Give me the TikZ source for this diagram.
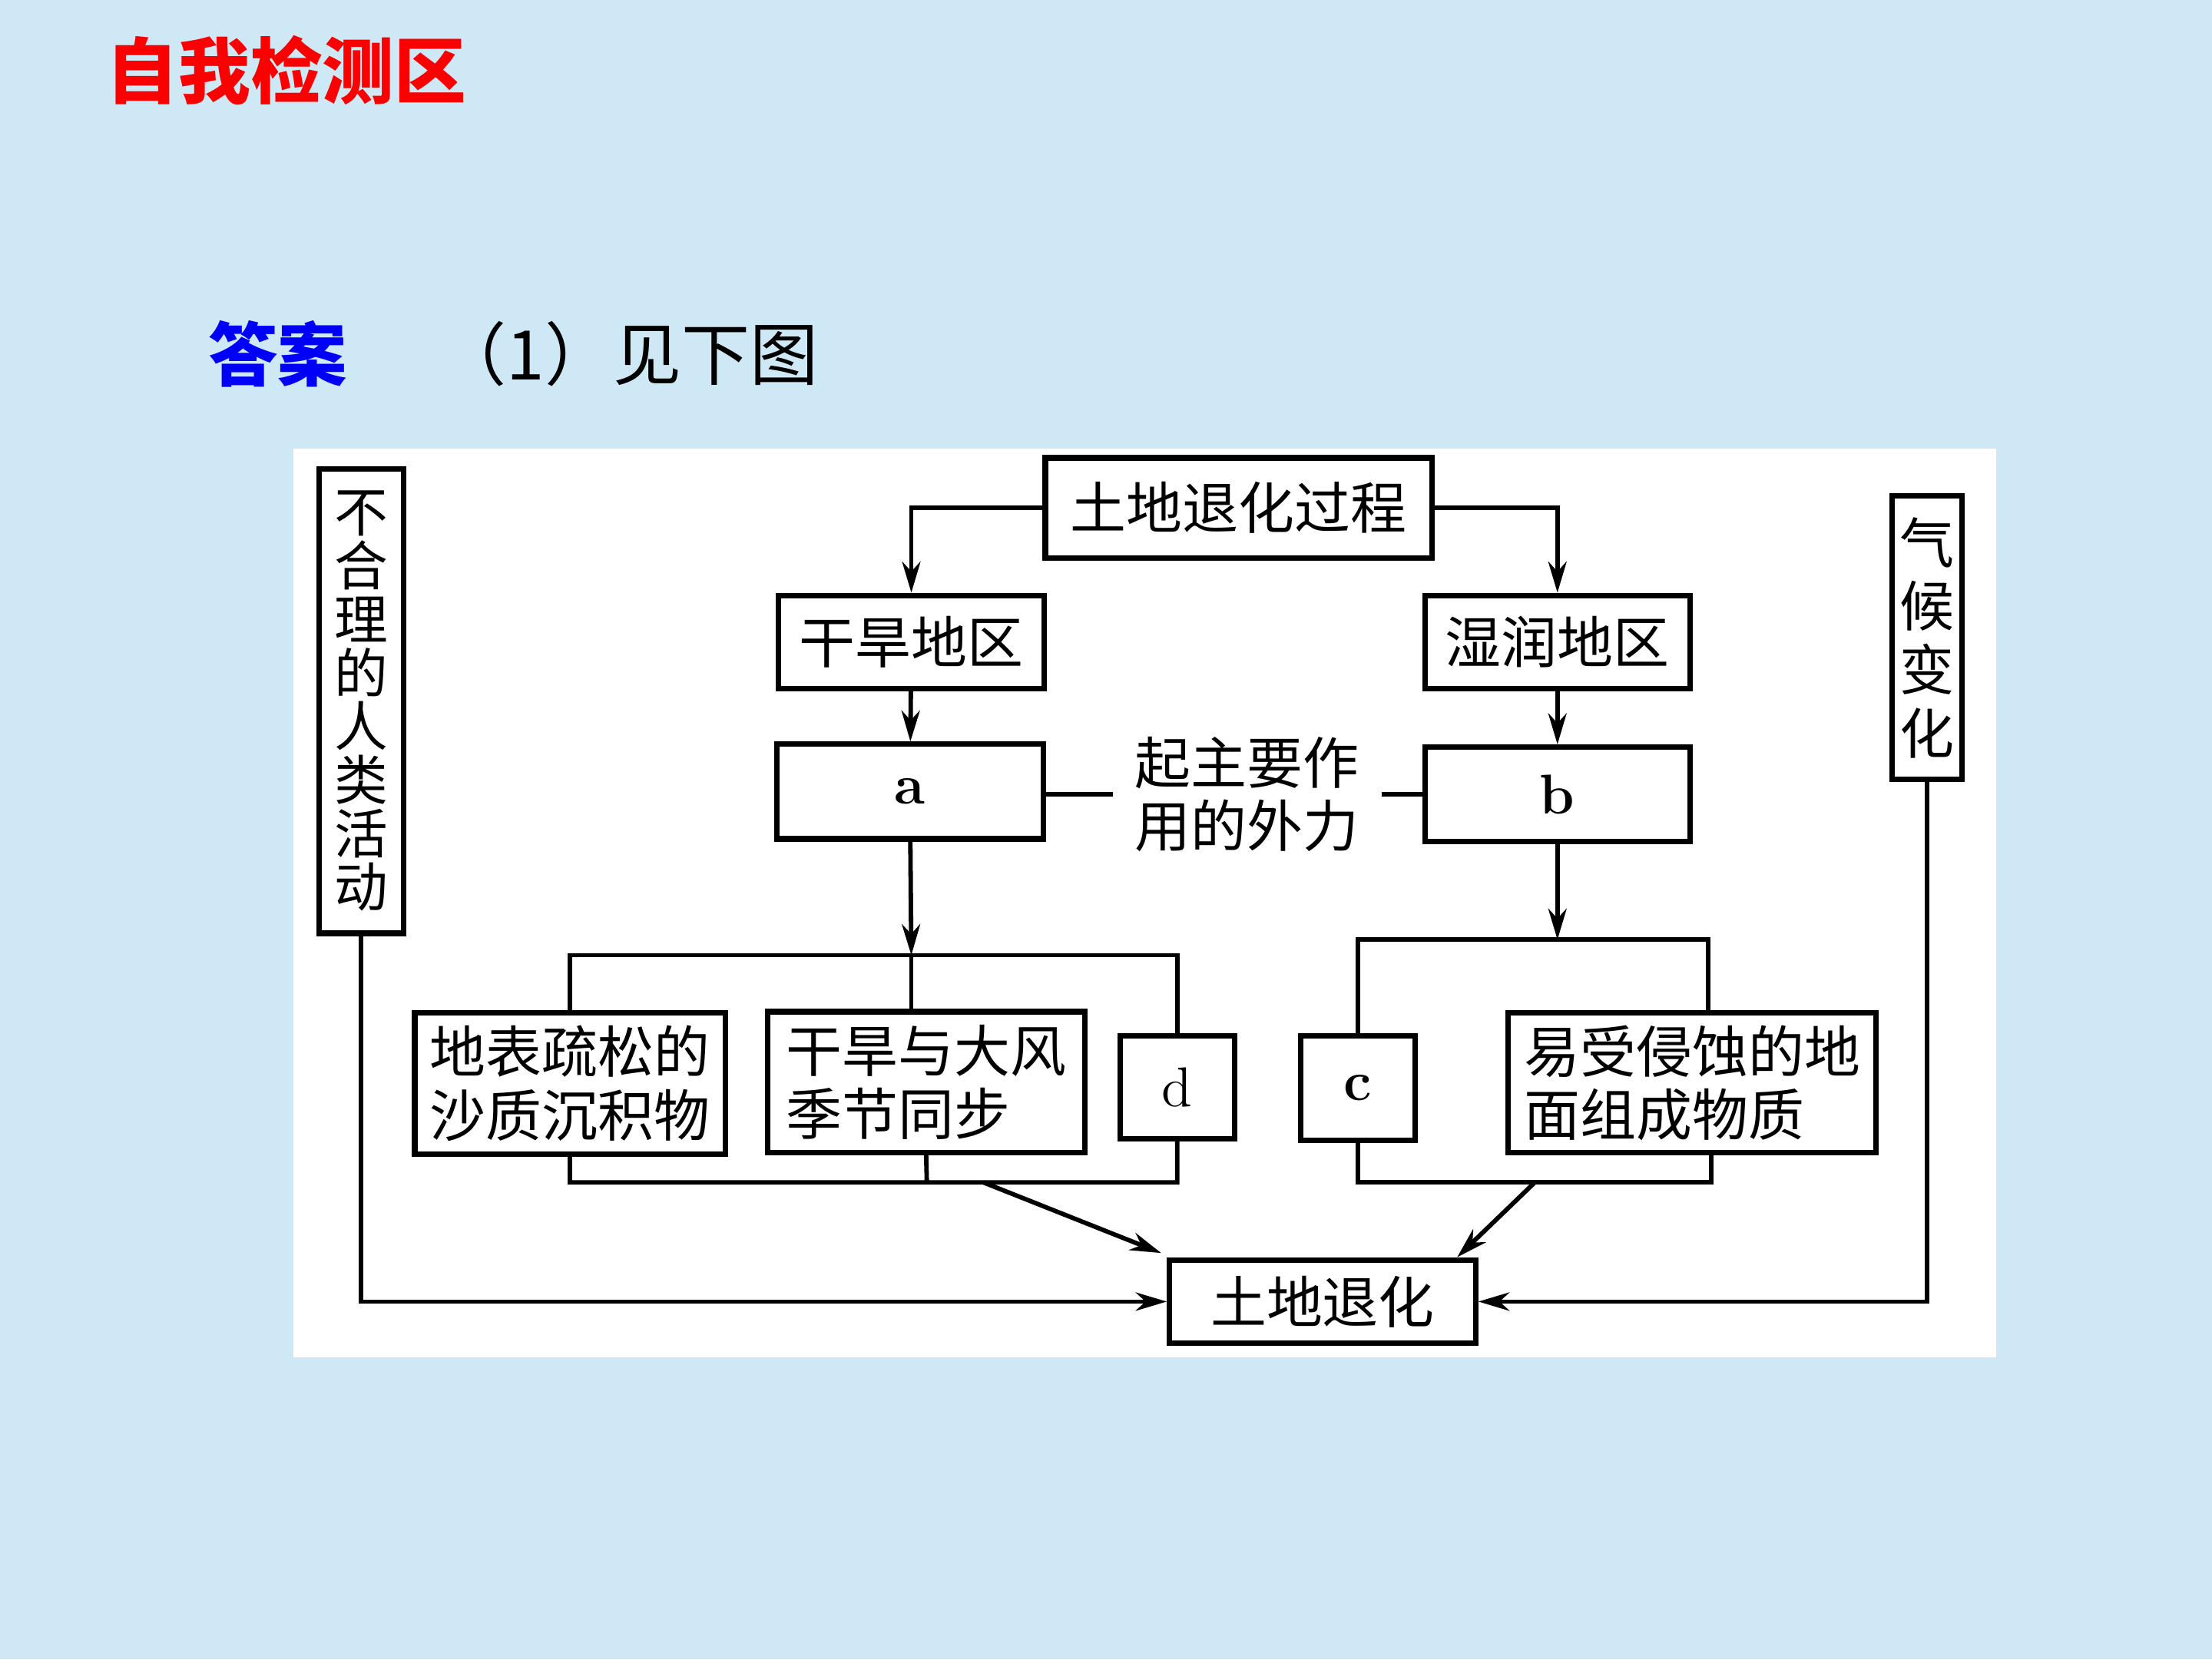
\documentclass[tikz,border=0pt]{standalone}
\usepackage{fontspec}
\newfontfamily\cjk{Noto Sans CJK SC}
\usetikzlibrary{arrows.meta}
\definecolor{slide}{RGB}{206,233,245}
\definecolor{titlered}{RGB}{250,0,0}
\definecolor{answerblue}{RGB}{0,0,250}
\tikzset{
  box/.style={draw, line width=1.1pt, fill=white, inner sep=0pt, align=left,
    font=\cjk\fontsize{11.3}{12.8}\selectfont},
  tall/.style={box, align=center, font=\cjk\fontsize{10.8}{10.8}\selectfont},
  link/.style={line width=0.9pt},
}
\begin{document}
\begin{tikzpicture}[x=0.1mm, y=-0.1mm, >={Stealth[length=2.2mm,width=1.3mm,inset=0.7mm]}]
	\fill [slide] (0, 0) rectangle (1568, 1176);
	\useasboundingbox (0, 0) rectangle (1568, 1176);
	\fill [white] (208, 318) rectangle (1415, 962);
	% headings
	\node [font=\cjk\bfseries\fontsize{14.5}{17}\selectfont, text=titlered] (title) at (203, 50) {自我检测区};
	\node [font=\cjk\bfseries\fontsize{14}{17}\selectfont, text=answerblue] (answer) at (197, 251) {答案};
	\node [font=\cjk\fontsize{13.8}{17}\selectfont, anchor=west, inner sep=0pt] (see) at (310, 251) {（1）见下图};
	% upper chain
	\node [box, minimum width=27.4mm, minimum height=7.1mm] (proc) at (878, 360) {土地退化过程};
	\node [box, minimum width=18.8mm, minimum height=6.6mm] (dry) at (646, 455) {干旱地区};
	\node [box, minimum width=18.8mm, minimum height=6.6mm] (wet) at (1104, 455) {湿润地区};
	\node [box, minimum width=18.9mm, minimum height=6.7mm] (a) at (645, 561) {\normalfont\bfseries a};
	\node [box, minimum width=18.8mm, minimum height=6.7mm] (b) at (1104, 563) {\normalfont\bfseries b};
	\node [box, draw=none, fill=none, inner sep=1.4mm] (force) at (884, 563) {起主要作\\用的外力};
	\node [tall, minimum width=6mm, minimum height=32.9mm] (human) at (256, 497) {不\\合\\理\\的\\人\\类\\活\\动};
	\node [tall, font=\cjk\fontsize{11}{12.8}\selectfont, minimum width=5mm, minimum height=20.1mm] (climate) at (1366, 452) {气\\候\\变\\化};
	% factor boxes
	\node [box, minimum width=22mm, minimum height=10mm] (loose) at (404, 768) {地表疏松的\\沙质沉积物};
	\node [box, minimum width=22.5mm, minimum height=10mm] (wind) at (656.5, 767) {干旱与大风\\季节同步};
	\node [box, minimum width=8.1mm, minimum height=7.3mm] (d) at (834.5, 770.5) {\normalfont d};
	\node [box, minimum width=8.1mm, minimum height=7.4mm] (c) at (962.5, 771) {\normalfont\bfseries c};
	\node [box, minimum width=26.1mm, minimum height=9.9mm] (erode) at (1199.5, 767.5) {易受侵蚀的地\\面组成物质};
	\node [box, minimum width=21.7mm, minimum height=5.9mm] (final) at (937.5, 922.5) {土地退化};
	\coordinate (topL) at (646, 677);
	\coordinate (botL) at (657, 838);
	\coordinate (outL) at (697, 838);
	\coordinate (topR) at (1104, 666);
	\coordinate (botR) at (1088, 838);
	% connectors
	\draw [link, ->] (proc.west) -| (dry.north);
	\draw [link, ->] (proc.east) -| (wet.north);
	\draw [link, ->] (dry) -- (a);
	\draw [link, ->] (wet) -- (b);
	\draw [link] (a.east |- force.west) -- (force.west) (force.east) -- (b.west |- force.east);
	\draw [link, ->] (a) -- (topL);
	\draw [link, ->] (b) -- (topR);
	\draw [link] (loose.north) -- (loose.north |- topL) -- (d.north |- topL) -- (d.north) (topL) -- (topL |- wind.north);
	\draw [link] (loose.south) -- (loose.south |- botL) -- (d.south |- botL) -- (d.south) (wind.south) -- (botL);
	\draw [link] (c.north) -- (c.north |- topR) -- ([xshift=1.15mm]erode.north |- topR) -- ([xshift=1.15mm]erode.north);
	\draw [link] (c.south) -- (c.south |- botR) -- ([xshift=1.35mm]erode.south |- botR) -- ([xshift=1.35mm]erode.south);
	\draw [link, ->] (outL) -- ([xshift=-.4mm, yshift=.3mm]final.north west);
	\draw [link, ->] (botR) -- ([xshift=-1.5mm]final.north east);
	\draw [link, ->] (human.south) |- (final.west);
	\draw [link, ->] (climate.south) |- (final.east);
\end{tikzpicture}
\end{document}
